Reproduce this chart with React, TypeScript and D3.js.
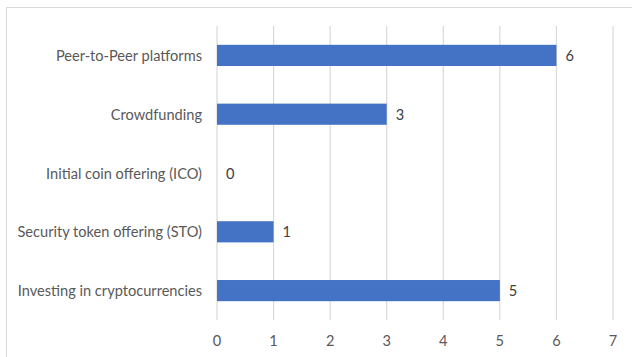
import React from "react";
import * as d3 from "d3";

const categories = [
  "Peer-to-Peer platforms",
  "Crowdfunding",
  "Initial coin offering (ICO)",
  "Security token offering (STO)",
  "Investing in cryptocurrencies",
];
const values = [6, 3, 0, 1, 5];
const xTicks = [0, 1, 2, 3, 4, 5, 6, 7];

const W = 632;
const H = 357;
const FONT = "Lato, 'Open Sans', sans-serif";
const FS = 14.6;

export default function App() {
  const x = d3.scaleLinear().domain([0, 7]).range([217, 613]);
  const y = d3
    .scaleBand<string>()
    .domain(categories)
    .range([26, 320])
    .paddingInner(0.64)
    .paddingOuter(0.32);

  return (
    <div style={{ position: "absolute", left: 0, top: 0 }}>
      <svg width={W} height={H} style={{ display: "block", background: "#fff" }}>
        <rect x={6.5} y={7.5} width={W + 10} height={H + 10} fill="none" stroke="#d9d9d9" strokeWidth={1} />
        {xTicks.map((t) => (
          <line key={t} x1={x(t)} x2={x(t)} y1={26} y2={320} stroke="#d9d9d9" strokeWidth={1.2} />
        ))}
        {categories.map((c, i) => (
          <g key={c}>
            <rect
              x={x(0)}
              y={y(c)}
              width={x(values[i]) - x(0)}
              height={y.bandwidth()}
              fill="#4472c4"
            />
            <text
              x={202}
              y={(y(c) as number) + y.bandwidth() / 2}
              textAnchor="end"
              dominantBaseline="central"
              fontFamily={FONT}
              fontSize={FS}
              fill="#595959"
            >
              {c}
            </text>
            <text
              x={x(values[i]) + 9}
              y={(y(c) as number) + y.bandwidth() / 2}
              textAnchor="start"
              dominantBaseline="central"
              fontFamily={FONT}
              fontSize={FS}
              fill="#404040"
            >
              {values[i]}
            </text>
          </g>
        ))}
        {xTicks.map((t) => (
          <text
            key={t}
            x={x(t)}
            y={340}
            textAnchor="middle"
            dominantBaseline="central"
            fontFamily={FONT}
            fontSize={FS}
            fill="#595959"
          >
            {t}
          </text>
        ))}
      </svg>
    </div>
  );
}
